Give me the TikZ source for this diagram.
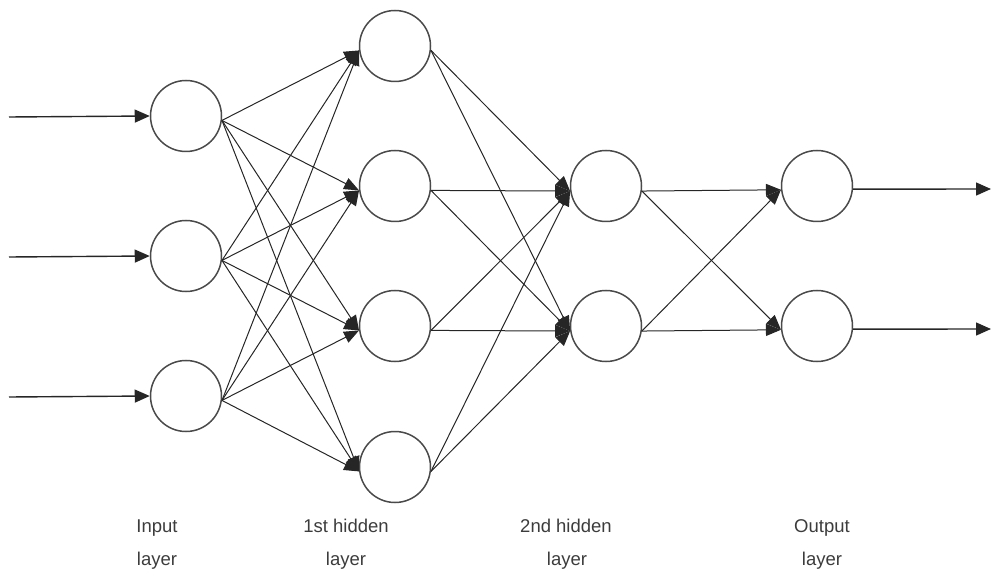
\documentclass[tikz,border=0pt]{standalone}
\usepackage{fontspec}
\setmainfont{Liberation Sans}
\usetikzlibrary{arrows.meta}
\definecolor{ringc}{HTML}{4A4A4A}
\definecolor{textc}{HTML}{3C3C3C}
\tikzset{
  neuron/.style={circle, draw=ringc, line width=1.5pt, minimum size=71pt, inner sep=0pt, fill=white},
  conn/.style={line width=1pt, draw=black!85, -{Triangle[length=15pt,width=12pt]}},
  ioarrow/.style={line width=1.4pt, draw=black!85, -{Triangle[length=15pt,width=13pt]}},
  lbl/.style={anchor=base, text=textc, font=\fontsize{18.5}{18.5}\selectfont, inner sep=0pt}
}
\begin{document}
\begin{tikzpicture}[x=1pt,y=-1pt]
\useasboundingbox (0,0) rectangle (1001,577);
% input layer
\node[neuron] (i1) at (186,116) {};
\node[neuron] (i2) at (186,256) {};
\node[neuron] (i3) at (186,396) {};
% first hidden layer
\node[neuron] (h1) at (395,46) {};
\node[neuron] (h2) at (395,186) {};
\node[neuron] (h3) at (395,326) {};
\node[neuron] (h4) at (395,467) {};
% second hidden layer
\node[neuron] (g1) at (606,186) {};
\node[neuron] (g2) at (606,326) {};
% output layer
\node[neuron] (o1) at (817,186) {};
\node[neuron] (o2) at (817,326) {};
% inputs
\coordinate (s1) at (9,117);
\coordinate (s2) at (9,257);
\coordinate (s3) at (9,397);
\draw[ioarrow] (s1) -- (i1.west);
\draw[ioarrow] (s2) -- (i2.west);
\draw[ioarrow] (s3) -- (i3.west);
% input -> hidden 1
\foreach \a in {i1,i2,i3}{
  \foreach \b in {h1,h2,h3,h4}{
    \draw[conn] (\a.-7) -- (\b.187);
  }
}
% hidden 1 -> hidden 2
\foreach \a in {h1,h2,h3,h4}{
  \foreach \b in {g1,g2}{
    \draw[conn] (\a.-7) -- (\b.188);
  }
}
% hidden 2 -> output
\foreach \a in {g1,g2}{
  \foreach \b in {o1,o2}{
    \draw[conn] (\a.-8) -- (\b.186);
  }
}
% outputs
\coordinate (t1) at (991,189);
\coordinate (t2) at (991,329);
\draw[ioarrow] (o1.-5) -- (t1);
\draw[ioarrow] (o2.-5) -- (t2);
% labels
\node[lbl] (l1a) at (157,532) {Input};
\node[lbl] (l1b) at (157,565) {layer};
\node[lbl] (l2a) at (346,532) {1st hidden};
\node[lbl] (l2b) at (346,565) {layer};
\node[lbl] (l3a) at (566,532) {2nd hidden};
\node[lbl] (l3b) at (567,565) {layer};
\node[lbl] (l4a) at (822,532) {Output};
\node[lbl] (l4b) at (822,565) {layer};
\end{tikzpicture}
\end{document}
